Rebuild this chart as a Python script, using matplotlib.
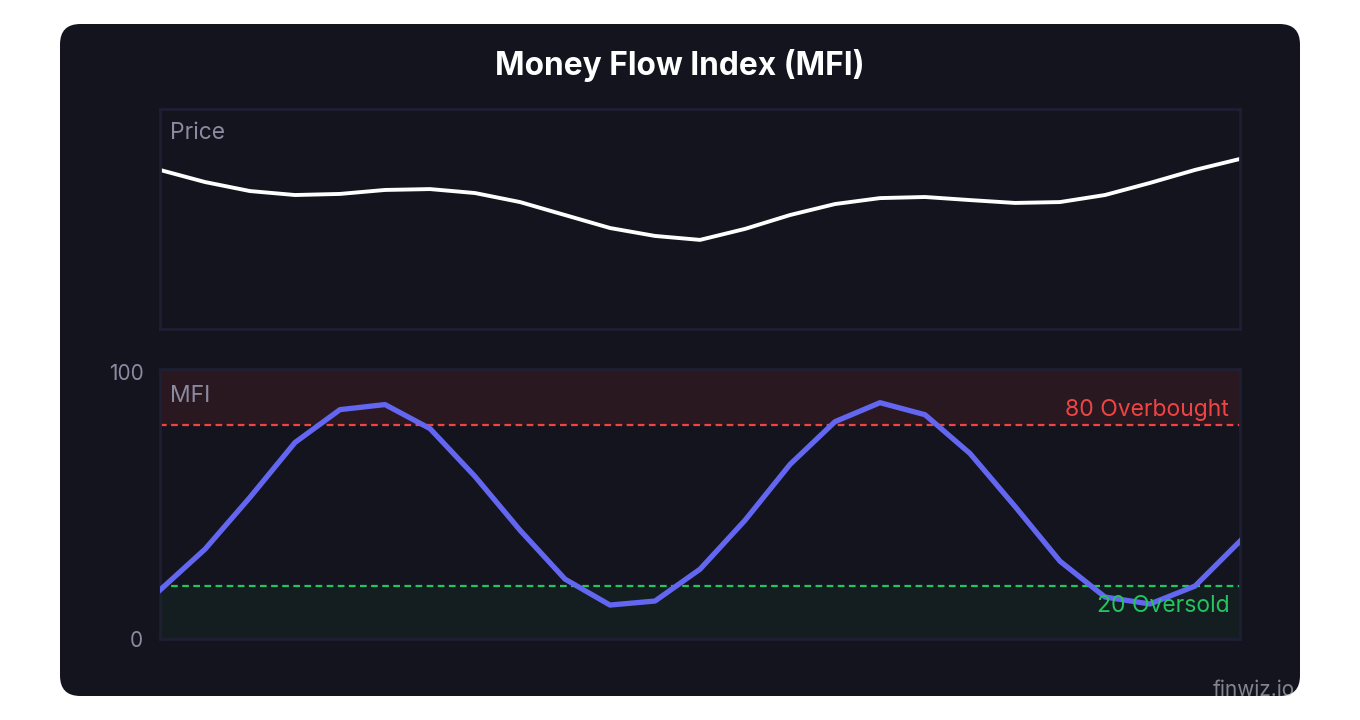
import matplotlib.pyplot as plt
from matplotlib.patches import FancyBboxPatch
import numpy as np

plt.rcParams['font.family'] = ['Inter', 'DejaVu Sans']

# price (arbitrary units, 0-100 scale of panel) and MFI readings
price = [72.3, 66.8, 62.7, 60.9, 61.4, 63.2, 63.6, 61.8, 57.7, 51.8, 45.9, 42.3, 40.5,
         45.5, 51.8, 56.8, 59.5, 60.0, 58.6, 57.3, 57.7, 60.9, 66.4, 72.3, 77.3]
mfi = [18.3, 33.6, 53.0, 73.5, 85.8, 87.7, 78.7, 60.8, 40.7, 22.4, 12.7, 14.2, 26.1,
       44.4, 65.3, 81.3, 88.4, 83.9, 69.4, 49.6, 29.1, 15.7, 13.1, 19.8, 36.6]
x = np.arange(len(mfi))

BG = '#14141e'
EDGE = '#1f1f33'

fig = plt.figure(figsize=(13.6, 7.2), dpi=100)
fig.patch.set_facecolor('white')
card = FancyBboxPatch((60/1360, 24/720), 1240/1360, 672/720,
                      boxstyle='round,pad=0,rounding_size=0.015',
                      transform=fig.transFigure, facecolor=BG, edgecolor='none',
                      mutation_aspect=1360/720, zorder=-10)
fig.patches.append(card)

fig.text(0.5, 1 - 65/720, 'Money Flow Index (MFI)', ha='center', va='center',
         color='white', fontsize=22.8, fontweight='bold')

# price panel
ax1 = fig.add_axes([160/1360, 1 - 329/720, 1080/1360, 220/720])
ax1.plot(x, price, color='white', lw=2.8)
ax1.set_xlim(0, len(x) - 1)
ax1.set_ylim(0, 100)
ax1.text(0.009, 0.94, 'Price', transform=ax1.transAxes, color='#8a8aa0',
         fontsize=16.5, va='top', ha='left')

# MFI panel
ax2 = fig.add_axes([160/1360, 1 - 639/720, 1080/1360, 270/720])
ax2.axhspan(80, 101, color='#ef4444', alpha=0.1, lw=0)
ax2.axhspan(0, 20, color='#22c55e', alpha=0.06, lw=0)
ax2.axhline(80, color='#ef4444', ls='--', lw=1.6, dashes=(3, 2))
ax2.axhline(20, color='#22c55e', ls='--', lw=1.6, dashes=(3, 2))
ax2.plot(x, mfi, color='#6366f1', lw=3.8, zorder=3)
ax2.set_xlim(0, len(x) - 1)
ax2.set_ylim(0, 101)
ax2.set_yticks([0, 100])
ax2.text(0.99, 81.5, '80 Overbought', transform=ax2.get_yaxis_transform(),
         color='#ef4444', fontsize=16.5, ha='right', va='bottom')
ax2.text(0.99, 16.5, '20 Oversold', transform=ax2.get_yaxis_transform(),
         color='#22c55e', fontsize=16.5, ha='right', va='top')
ax2.text(0.009, 0.94, 'MFI', transform=ax2.transAxes, color='#8a8aa0',
         fontsize=16.5, va='top', ha='left')

for ax in (ax1, ax2):
    ax.set_facecolor(BG)
    ax.set_xticks([])
    for s in ax.spines.values():
        s.set_color(EDGE)
        s.set_linewidth(2)
    ax.tick_params(axis='y', length=0, colors='#8a8aa0', labelsize=15, pad=12)
ax1.set_yticks([])

fig.text(1295/1360, 1 - 690/720, 'finwiz.io', ha='right', va='center',
         color='#d0d0d8', alpha=0.6, fontsize=15)

fig.savefig('out.png', dpi=100)
